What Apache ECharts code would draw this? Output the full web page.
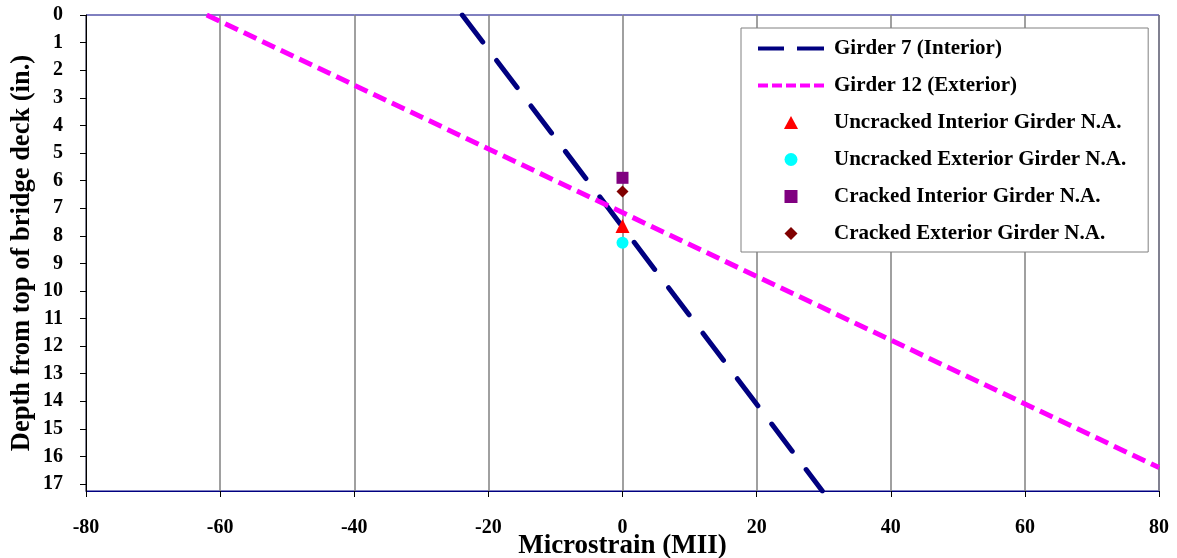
<!DOCTYPE html>
<html>
<head>
<meta charset="utf-8">
<script src="https://cdn.jsdelivr.net/npm/echarts@6/dist/echarts.min.js"></script>
<style>html,body{margin:0;padding:0;background:#fff}#c{width:1177px;height:558px}</style>
</head>
<body>
<div id="c"></div>
<script>
// Data (x = microstrain, y = depth in inches)
const girder7 = [[-23.9, 0], [29.8, 17.25]];
const girder12 = [[-62, 0], [80, 16.4]];
const uncrackedInterior = [[0, 7.65]];
const uncrackedExterior = [[0, 8.25]];
const crackedInterior = [[0, 5.9]];
const crackedExterior = [[0, 6.4]];
const seriesNames = ['Girder 7 (Interior)', 'Girder 12 (Exterior)', 'Uncracked Interior Girder N.A.', 'Uncracked Exterior Girder N.A.', 'Cracked Interior Girder N.A.', 'Cracked Exterior Girder N.A.'];

const FONT = '"Liberation Serif", "Times New Roman", serif';
const ICON_LONGDASH = 'path://M0,0H26V4H0Z M39,0H66V4H39Z';
const ICON_SHORTDASH = 'path://M0,0H10V4H0Z M14,0H24V4H14Z M28,0H38V4H28Z M42,0H52V4H42Z M56,0H66V4H56Z';
const ICON_TRI = 'path://M6.5,0L13,12L0,12Z';
const ICON_CIR = 'path://M6.5,0A6.5,6.5,0,1,1,6.5,13A6.5,6.5,0,1,1,6.5,0Z';
const ICON_SQ = 'path://M0,0H12V12H0Z';
const ICON_DIA = 'path://M6,0L12,6L6,12L0,6Z';

const chart = echarts.init(document.getElementById('c'));
chart.setOption({
  animation: false,
  backgroundColor: '#fff',
  textStyle: { fontFamily: FONT },
  grid: { left: 86, right: 18, top: 15, bottom: 67, outerBoundsMode: 'none', containLabel: false,
          show: true, borderColor: '#000080', borderWidth: 1, backgroundColor: 'transparent' },
  legend: {
    left: 741, top: 28,
    orient: 'vertical',
    backgroundColor: '#fff',
    borderColor: '#808080', borderWidth: 1,
    padding: [9, 22, 7, 17],
    itemWidth: 66, itemHeight: 13, itemGap: 14,
    symbolKeepAspect: true,
    textStyle: { fontFamily: FONT, fontWeight: 'bold', fontSize: 21, lineHeight: 23, color: '#000', padding: [0, 0, 0, 5] },
    data: [
      { name: seriesNames[0], icon: ICON_LONGDASH, itemStyle: { color: '#000080' } },
      { name: seriesNames[1], icon: ICON_SHORTDASH, itemStyle: { color: '#ff00ff' } },
      { name: seriesNames[2], icon: ICON_TRI },
      { name: seriesNames[3], icon: ICON_CIR },
      { name: seriesNames[4], icon: ICON_SQ },
      { name: seriesNames[5], icon: ICON_DIA }
    ]
  },
  xAxis: {
    type: 'value', min: -80, max: 80, interval: 20,
    name: 'Microstrain (MII)', nameLocation: 'middle', nameGap: 42, nameMoveOverlap: false,
    nameTextStyle: { fontFamily: FONT, fontWeight: 'bold', fontSize: 27, color: '#000' },
    axisLine: { onZero: false, lineStyle: { color: '#000080' } },
    axisTick: { show: true, length: 6, lineStyle: { color: '#000' } },
    axisLabel: { fontFamily: FONT, fontWeight: 'bold', fontSize: 20, color: '#000', margin: 27 },
    splitLine: { show: true, lineStyle: { color: '#808080', width: 1.5 } }
  },
  yAxis: {
    type: 'value', min: 0, max: 17.25, interval: 1, inverse: true,
    name: 'Depth from top of bridge deck (in.)', nameLocation: 'middle', nameGap: 50, nameMoveOverlap: false,
    nameTextStyle: { fontFamily: FONT, fontWeight: 'bold', fontSize: 26.5, color: '#000' },
    axisLine: { onZero: false, lineStyle: { color: '#000' } },
    axisTick: { show: true, length: 6, lineStyle: { color: '#000' } },
    axisLabel: { fontFamily: FONT, fontWeight: 'bold', fontSize: 20, color: '#000', margin: 23, showMaxLabel: false,
                 formatter: v => (Number.isInteger(v) ? String(v) : '') },
    splitLine: { show: false }
  },
  series: [
    { name: seriesNames[0], type: 'line', data: girder7, showSymbol: false, symbol: 'none', color: '#000080',
      lineStyle: { color: '#000080', width: 5, type: [34, 23], cap: 'round' }, z: 3 },
    { name: seriesNames[1], type: 'line', data: girder12, showSymbol: false, symbol: 'none', color: '#ff00ff',
      lineStyle: { color: '#ff00ff', width: 5, type: [14, 6.5] }, z: 3 },
    { name: seriesNames[2], type: 'scatter', data: uncrackedInterior, symbol: 'triangle', symbolSize: 14, itemStyle: { color: '#ff0000', opacity: 1 }, z: 5 },
    { name: seriesNames[3], type: 'scatter', data: uncrackedExterior, symbol: 'circle', symbolSize: 12, itemStyle: { color: '#00ffff', opacity: 1 }, z: 5 },
    { name: seriesNames[4], type: 'scatter', data: crackedInterior, symbol: 'rect', symbolSize: 12, itemStyle: { color: '#800080', opacity: 1 }, z: 5 },
    { name: seriesNames[5], type: 'scatter', data: crackedExterior, symbol: 'diamond', symbolSize: 12, itemStyle: { color: '#800000', opacity: 1 }, z: 5 }
  ]
});
</script>
</body>
</html>
